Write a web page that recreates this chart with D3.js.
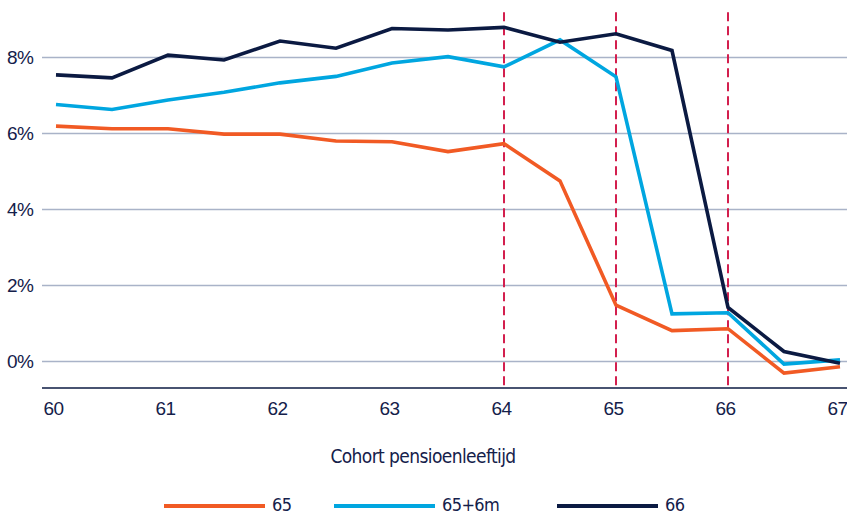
<!DOCTYPE html>
<html>
<head>
<meta charset="utf-8">
<script src="https://cdn.jsdelivr.net/npm/d3@7"></script>
<style>
  body { margin: 0; background: #fff; }
  svg { display: block; font-family: "Liberation Sans Narrow", "DejaVu Sans Condensed", sans-serif; }
  text { letter-spacing: -0.6px; }
</style>
</head>
<body>
<div id="chart"></div>
<script>
// cohort pension age, half-year steps
const ages = [60, 60.5, 61, 61.5, 62, 62.5, 63, 63.5, 64, 64.5, 65, 65.5, 66, 66.5, 67];

const s65   = [6.18, 6.11, 6.11, 5.97, 5.97, 5.79, 5.77, 5.51, 5.72, 4.74, 1.47, 0.80, 0.85, -0.32, -0.15];
const s65m6 = [6.75, 6.62, 6.87, 7.07, 7.32, 7.49, 7.84, 8.01, 7.74, 8.45, 7.48, 1.24, 1.27, -0.08, 0.03];
const s66   = [7.53, 7.45, 8.05, 7.92, 8.42, 8.23, 8.75, 8.71, 8.78, 8.39, 8.61, 8.17, 1.41, 0.25, -0.06];

const seriesNames = ["65", "65+6m", "66"];
const seriesColors = ["#f15a24", "#00a6e0", "#0b1a42"];
const yTicks = [0, 2, 4, 6, 8];
const xTicks = [60, 61, 62, 63, 64, 65, 66, 67];
const markers = [64, 65, 66];

const width = 847, height = 516;
const textColor = "#14204a";

const x = d3.scaleLinear().domain([60, 67]).range([56, 840]);
const y = d3.scaleLinear().domain([0, 8]).range([361, 57]);
const yBottom = 388;

const svg = d3.select("#chart").append("svg")
  .attr("width", width).attr("height", height);

// gridlines + y labels
const yAxis = g => g
  .attr("transform", "translate(42,0)")
  .call(d3.axisRight(y).tickValues(yTicks).tickSize(width - 42).tickFormat(d => d + "%"))
  .call(g => g.select(".domain").remove())
  .call(g => g.selectAll("line").attr("stroke", "#a9b3c8").attr("stroke-width", 1.6))
  .call(g => g.selectAll("text")
      .attr("x", -35)
      .attr("dy", "0.35em")
      .attr("text-anchor", "start")
      .style("font-size", "19px")
      .style("fill", textColor));

svg.append("g").call(yAxis);

// x axis
const xAxis = g => g
  .attr("transform", `translate(0,${yBottom})`)
  .call(d3.axisBottom(x).tickValues(xTicks).tickSize(0).tickPadding(14).tickFormat(d3.format("d")))
  .call(g => g.select(".domain").remove())
  .call(g => g.selectAll("text")
      .attr("dx", "-3")
      .style("font-size", "19px")
      .style("fill", textColor));

svg.append("g").call(xAxis);

svg.append("line")
  .attr("x1", 42).attr("x2", width)
  .attr("y1", yBottom).attr("y2", yBottom)
  .attr("stroke", "#0b1a42").attr("stroke-width", 1.6);

// dashed markers
svg.append("g")
  .selectAll("line")
  .data(markers)
  .join("line")
    .attr("x1", d => x(d)).attr("x2", d => x(d))
    .attr("y1", y(9.18)).attr("y2", yBottom)
    .attr("stroke", "#d31f4e")
    .attr("stroke-width", 2)
    .attr("stroke-dasharray", "9,5");

// lines
const data = [s65, s65m6, s66];
const line = d3.line()
  .x((d, i) => x(ages[i]))
  .y(d => y(d));

svg.append("g")
  .selectAll("path")
  .data(data)
  .join("path")
    .attr("fill", "none")
    .attr("stroke", (d, i) => seriesColors[i])
    .attr("stroke-width", 3.6)
    .attr("stroke-linejoin", "miter")
    .attr("d", line);

// axis title
svg.append("text")
  .attr("x", 423).attr("y", 463)
  .attr("text-anchor", "middle")
  .style("font-size", "19px")
  .style("fill", textColor)
  .text("Cohort pensioenleeftijd");

// legend
const legendX = [164, 334, 557];
const legend = svg.append("g")
  .selectAll("g")
  .data(seriesNames)
  .join("g")
    .attr("transform", (d, i) => `translate(${legendX[i]},506)`);

legend.append("line")
  .attr("x1", 0).attr("x2", 101)
  .attr("stroke", (d, i) => seriesColors[i])
  .attr("stroke-width", 4);

legend.append("text")
  .attr("x", 108)
  .attr("y", 5)
  .style("font-size", "18px")
  .style("fill", textColor)
  .text(d => d);
</script>
</body>
</html>
